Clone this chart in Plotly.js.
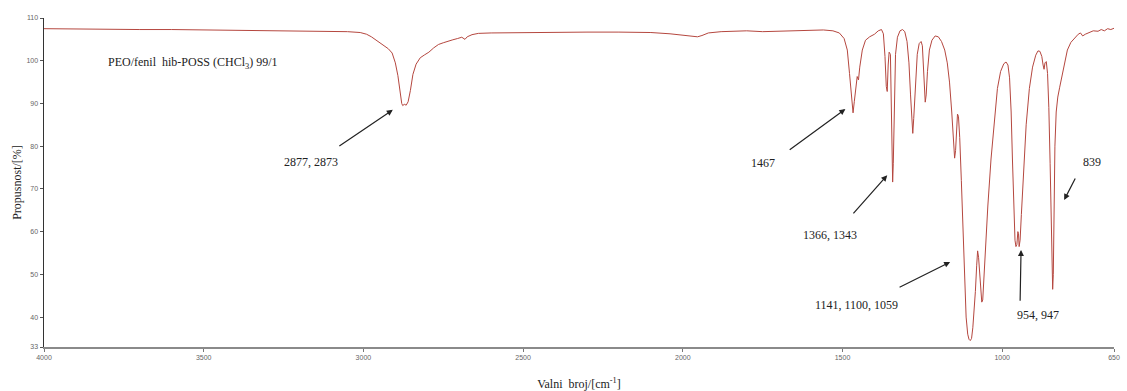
<!DOCTYPE html>
<html>
<head>
<meta charset="utf-8">
<script src="https://cdn.plot.ly/plotly-3.0.1.min.js"></script>
<style>html,body{margin:0;padding:0;background:#fff;}#chart{width:1127px;height:391px;}</style>
</head>
<body>
<div id="chart"></div>
<script>
// Wavenumber (cm-1) and transmittance (%)
const wavenumber = [4000,3900,3800,3700,3600,3500,3400,3300,3200,3100,3050,3010,2990,2975,2960,2945,2935,2922,2910,2900,2892,2885,2880,2877,2872,2866,2860,2853,2845,2835,2822,2808,2795,2780,2765,2750,2735,2720,2705,2692,2682,2675,2660,2640,2600,2500,2400,2300,2200,2100,2040,2000,1975,1954,1940,1920,1880,1800,1750,1700,1650,1600,1560,1530,1510,1495,1485,1478,1472,1467,1463,1458,1454,1450,1446,1438,1428,1415,1400,1388,1378,1372,1367,1363,1360,1357,1354,1350,1347,1344,1343,1341,1338,1334,1328,1320,1312,1305,1298,1292,1287,1283,1280,1277,1272,1266,1260,1254,1250,1246,1243,1241,1238,1234,1228,1220,1210,1200,1190,1180,1172,1165,1158,1153,1149,1146,1143,1140,1137,1133,1128,1123,1118,1113,1108,1104,1100,1096,1092,1088,1084,1080,1077,1074,1071,1068,1064,1061,1058,1053,1045,1035,1025,1015,1005,995,988,982,977,972,968,964,960,957,954,951,949,947,944,940,933,925,915,905,895,888,882,876,872,869,866,862,858,854,850,847,844,842,840,838,835,831,826,820,814,806,796,785,772,762,755,748,740,730,715,700,690,680,670,660,650];
const transmittance = [107.5,107.4,107.4,107.3,107.3,107.2,107.2,107.0,107.0,106.9,106.8,106.6,106.2,105.6,104.8,104.0,103.6,102.8,101.8,99.5,96.5,92.5,90.0,89.5,89.8,89.6,90.4,93.0,96.8,99.2,100.7,101.4,102.0,103.0,103.8,104.2,104.6,104.9,105.2,105.5,105.0,105.6,106.1,106.4,106.5,106.6,106.6,106.7,106.7,106.6,106.3,106.0,105.9,105.6,105.9,106.5,106.8,107.0,106.8,106.9,107.1,107.2,107.2,107.0,106.5,105.2,102.5,97.0,91.5,87.8,90.5,94.5,96.3,95.5,98.5,102.5,104.8,105.6,106.2,107.0,107.3,106.3,101.0,94.0,92.8,99.0,102.0,101.5,90.0,75.0,71.6,76.0,92.0,101.5,105.5,107.0,107.3,106.8,104.5,99.5,92.0,85.0,83.0,86.5,95.0,101.5,104.0,104.5,103.5,98.5,92.5,90.3,92.0,97.5,102.5,104.8,105.8,105.6,104.5,102.5,99.5,95.0,88.0,80.5,77.2,79.0,84.5,87.5,87.0,82.0,72.0,60.0,48.0,40.0,36.0,34.8,34.5,35.0,37.5,41.0,46.0,52.0,55.5,54.0,50.0,46.0,43.5,44.0,48.5,56.0,66.0,77.0,86.0,93.5,97.5,99.3,99.7,99.0,96.0,88.0,77.0,66.0,58.0,56.5,57.0,60.0,59.5,56.5,58.0,64.0,75.0,85.0,93.5,98.5,101.3,102.3,102.2,101.0,99.0,98.0,99.5,99.8,97.0,89.0,76.0,62.0,50.0,46.5,50.0,65.0,80.0,88.0,91.5,93.8,96.0,99.5,102.5,104.3,105.5,106.2,106.5,105.8,106.2,106.6,107.0,106.9,107.3,107.0,107.5,107.3,107.6];

const xTickVals = [4000,3500,3000,2500,2000,1500,1000,650];
const xTickText = ['4000','3500','3000','2500','2000','1500','1000','650'];
const yTickVals = [33,40,50,60,70,80,90,100,110];
const yTickText = ['33','40','50','60','70','80','90','100','110'];

const sampleLabel = 'PEO/fenil  hib-POSS (CHCl<sub>3</sub>) 99/1';
const peakLabels = ['2877, 2873','1467','1366, 1343','1141, 1100, 1059','954, 947','839'];
// label position [wn, %], arrow tail [wn, %], arrow head [wn, %]
const labelPos  = [[3165,76.3],[1748,76.0],[1538,59.2],[1457,42.8],[888,40.4],[719,76.3]];
const arrowTail = [[3080,79.8],[1670,78.9],[1470,63.9],[1326,46.8],[944,43.5],[769,72.8]];
const arrowHead = [[2908,88.5],[1491,88.7],[1360,73.2],[1163,52.9],[941,55.7],[806,67.4]];

const serif = 'Liberation Serif, Times New Roman, serif';
const annotations = [];
annotations.push({x:3806, y:99.4, xref:'x', yref:'y', text:sampleLabel, showarrow:false, xanchor:'left', yanchor:'middle', font:{family:serif, size:12, color:'#222'}});
peakLabels.forEach((t,i)=>{
  annotations.push({x:labelPos[i][0], y:labelPos[i][1], xref:'x', yref:'y', text:t, showarrow:false, xanchor:'center', yanchor:'middle', font:{family:serif, size:12, color:'#222'}});
  annotations.push({x:arrowHead[i][0], y:arrowHead[i][1], ax:arrowTail[i][0], ay:arrowTail[i][1], xref:'x', yref:'y', axref:'x', ayref:'y', text:'', showarrow:true, arrowhead:2, arrowsize:1, arrowwidth:1.2, arrowcolor:'#222'});
});

const trace = {x:wavenumber, y:transmittance, type:'scatter', mode:'lines', line:{color:'#b5473f', width:1}, hoverinfo:'skip'};

const layout = {
  width:1127, height:391,
  margin:{l:44, r:13, t:18, b:44},
  paper_bgcolor:'#fff', plot_bgcolor:'#fff',
  showlegend:false,
  xaxis:{range:[4000,650], tickvals:xTickVals, ticktext:xTickText, showgrid:false, zeroline:false,
    showline:true, linecolor:'#8a8a8a', linewidth:2, ticks:'outside', ticklen:3, tickcolor:'#777',
    tickfont:{family:'Liberation Sans, Arial, sans-serif', size:7, color:'#666'},
    title:{text:'Valni  broj/[cm<sup>-1</sup>]', font:{family:serif, size:12, color:'#222'}, standoff:19}, automargin:false},
  yaxis:{range:[33,110], tickvals:yTickVals, ticktext:yTickText, showgrid:false, zeroline:false,
    showline:true, linecolor:'#333', linewidth:1.5, ticks:'outside', ticklen:3, tickcolor:'#555',
    tickfont:{family:'Liberation Sans, Arial, sans-serif', size:7, color:'#666'},
    title:{text:'Propusnost/[%]', font:{family:serif, size:12, color:'#222'}, standoff:2}, automargin:false},
  annotations:annotations
};
Plotly.newPlot('chart', [trace], layout, {staticPlot:true, displayModeBar:false});
</script>
</body>
</html>
